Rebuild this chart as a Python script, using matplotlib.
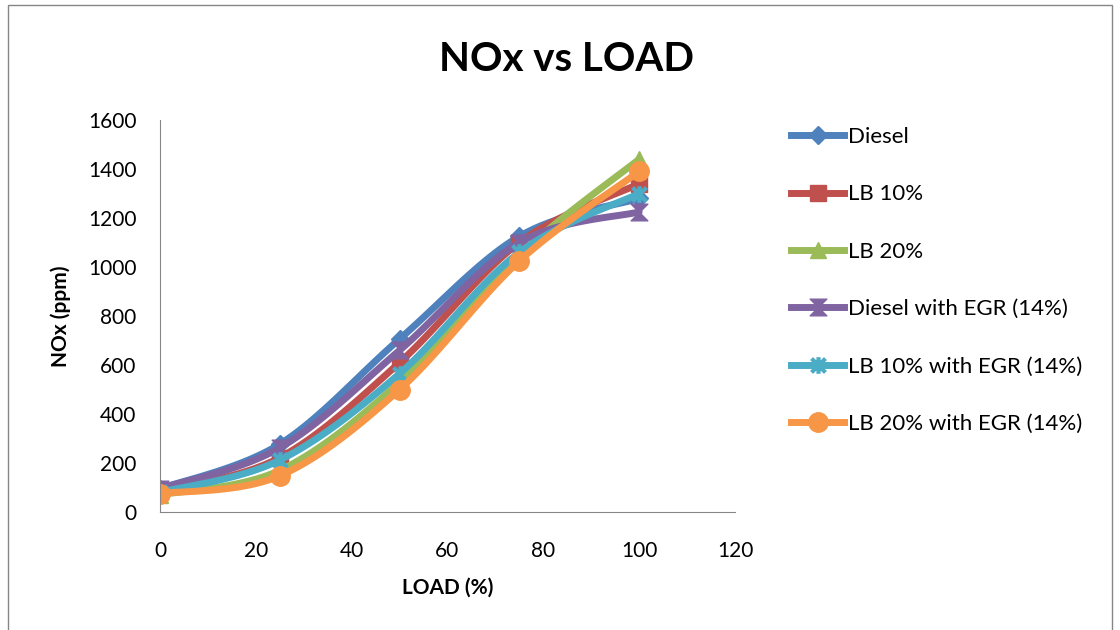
import numpy as np
import matplotlib
matplotlib.use("Agg")
import matplotlib.pyplot as plt
from matplotlib.path import Path
from matplotlib.patches import Rectangle

plt.rcParams['font.family'] = ['Lato', 'DejaVu Sans']

load = [0, 25, 50, 75, 100]
diesel = [95, 277, 706, 1125, 1280]
lb10 = [85, 222, 610, 1100, 1340]
lb20 = [70, 170, 530, 1050, 1440]
diesel_egr = [95, 262, 660, 1100, 1225]
lb10_egr = [80, 212, 565, 1060, 1300]
lb20_egr = [75, 148, 500, 1025, 1390]

names = ['Diesel', 'LB 10%', 'LB 20%', 'Diesel with EGR (14%)',
         'LB 10% with EGR (14%)', 'LB 20% with EGR (14%)']
series = [diesel, lb10, lb20, diesel_egr, lb10_egr, lb20_egr]
colors = ['#4F81BD', '#C0504D', '#9BBB59', '#8064A2', '#4BACC6', '#F79646']

# hourglass marker and asterisk marker like excel
hourglass = Path([(-1, 1), (1, 1), (0, 0), (1, -1), (-1, -1), (0, 0), (-1, 1)],
                 [1, 2, 2, 2, 2, 2, 79])
star = Path([(-1, -1), (1, 1), (-1, 1), (1, -1), (0, -1.2), (0, 1.2)],
            [1, 2, 1, 2, 1, 2])
markers = ['D', 's', '^', hourglass, star, 'o']
msizes = [9, 11, 12, 12, 12, 14]


def smooth(x, y, n=30):
    # excel-style bezier smoothing through the data points
    x = np.asarray(x, float)
    y = np.asarray(y, float)
    px = np.concatenate([[x[0]], x, [x[-1]]])
    py = np.concatenate([[y[0]], y, [y[-1]]])
    xs, ys = [], []
    t = np.linspace(0, 1, n)
    for i in range(len(x) - 1):
        p0 = np.array([px[i + 1], py[i + 1]])
        p3 = np.array([px[i + 2], py[i + 2]])
        c1 = p0 + (np.array([px[i + 2], py[i + 2]]) - np.array([px[i], py[i]])) / 6
        c2 = p3 - (np.array([px[i + 3], py[i + 3]]) - np.array([px[i + 1], py[i + 1]])) / 6
        b = ((1 - t) ** 3)[:, None] * p0 + (3 * (1 - t) ** 2 * t)[:, None] * c1 \
            + (3 * (1 - t) * t ** 2)[:, None] * c2 + (t ** 3)[:, None] * p3
        xs.extend(b[:, 0])
        ys.extend(b[:, 1])
    return xs, ys


fig = plt.figure(figsize=(11.2, 6.3), dpi=100)
ax = fig.add_axes([160 / 1120, 1 - 512 / 630, 575 / 1120, 392 / 630])

for s, name, c, m, ms in zip(series, names, colors, markers, msizes):
    mew = 3 if m is star else 1
    sx, sy = smooth(load, s)
    ax.plot(sx, sy, color=c, lw=5, solid_capstyle='round')
    ax.plot(load, s, ls='none', marker=m, color=c, ms=ms, mew=mew)
    ax.plot([], [], color=c, lw=5, marker=m, ms=ms, mew=mew, label=name)

ax.set_xlim(0, 120)
ax.set_ylim(0, 1600)
ax.set_xticks(range(0, 121, 20))
ax.set_yticks(range(0, 1601, 200))
ax.spines['top'].set_visible(False)
ax.spines['right'].set_visible(False)
ax.spines['left'].set_color('#868686')
ax.spines['bottom'].set_color('#868686')
ax.tick_params(axis='y', labelsize=15, length=0, pad=17)
ax.tick_params(axis='x', labelsize=15, length=0, pad=21)
ax.set_xlabel('LOAD (%)', fontsize=15, fontweight='bold', labelpad=12)
ax.set_ylabel('NOx (ppm)', fontsize=15, fontweight='bold', labelpad=12)
fig.text(0.506, 0.905, 'NOx vs LOAD', ha='center', va='center', fontsize=29, fontweight='bold')

fig.legend(loc='upper left', bbox_to_anchor=(780 / 1120, 1 - 116 / 630), frameon=False,
           borderpad=0, fontsize=16, labelspacing=1.68, handlelength=2.4, handletextpad=0.15)

fig.patches.append(Rectangle((8 / 1120, -0.01), 1104 / 1120, 1 - 5 / 630 + 0.01,
                             transform=fig.transFigure, fill=False, ec='#868686', lw=1))

fig.savefig('out.png', dpi=100)
